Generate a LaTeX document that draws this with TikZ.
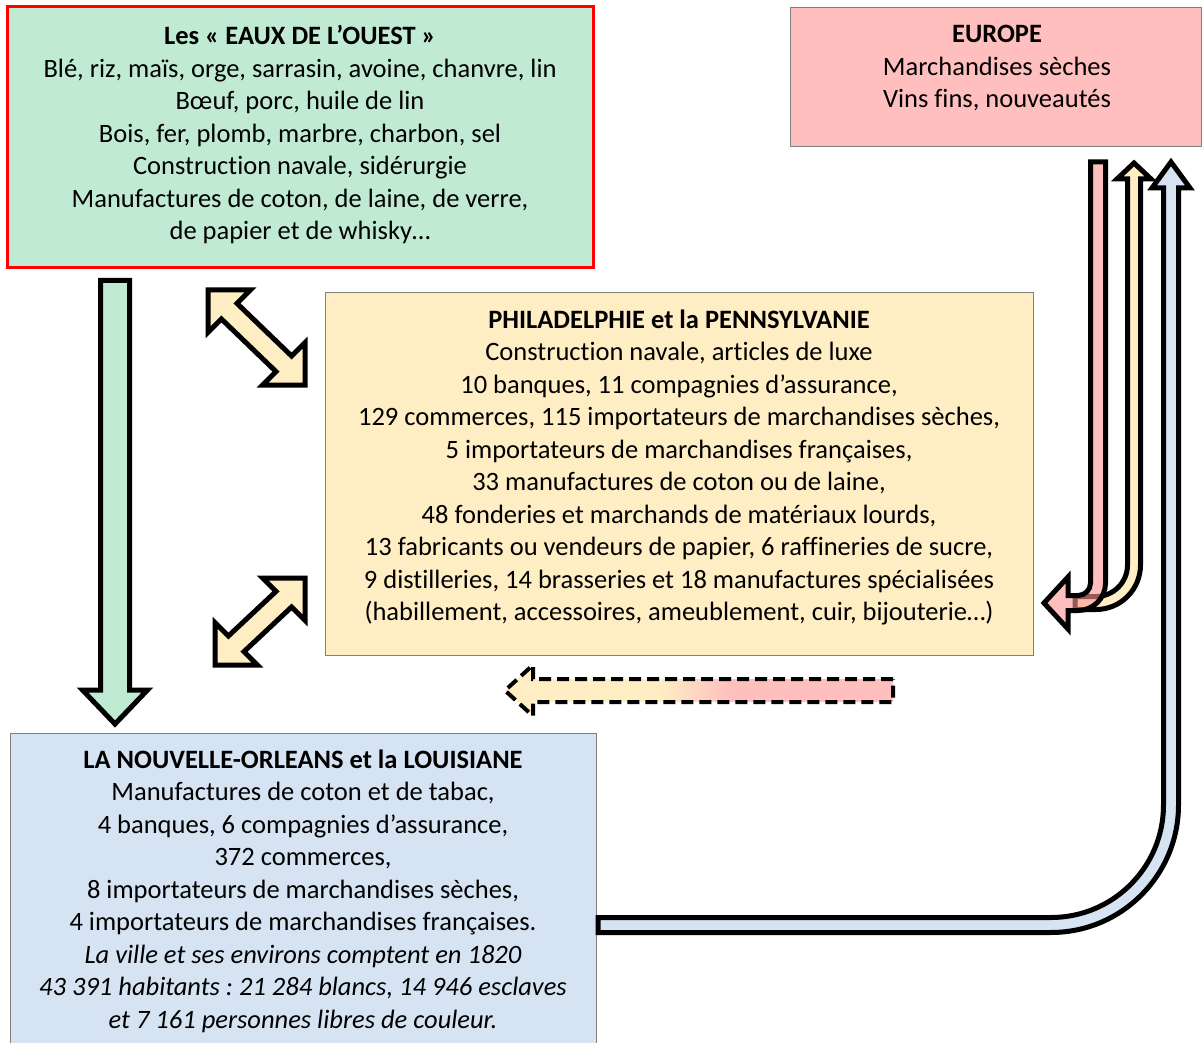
\documentclass[tikz,border=0pt]{standalone}
\usepackage{fontspec}
\setmainfont{Carlito}[Ligatures=NoCommon]
\definecolor{eauxGreen}{HTML}{C1EAD3}
\definecolor{eauxRed}{HTML}{FF0000}
\definecolor{europePink}{HTML}{FFBFBF}
\definecolor{europeRed}{HTML}{FF9494}
\definecolor{philaYellow}{HTML}{FFEDC3}
\definecolor{louisBlue}{HTML}{D5E3F3}
\definecolor{boxGrey}{HTML}{7F7F7F}
\pgfdeclarehorizontalshading{philaToEurope}{100bp}{color(0bp)=(philaYellow); color(45bp)=(philaYellow); color(54bp)=(europePink); color(100bp)=(europePink)}
\frenchspacing

\begin{document}
\begin{tikzpicture}[
    x=1pt, y=-1pt,
    box/.style={draw=boxGrey, line width=1pt, inner sep=0pt},
    txt/.style={align=center, inner sep=0pt, font=\fontsize{26.5}{32.5}\selectfont},
    blockarrow/.style={draw=black, line width=5pt, line join=miter},
  ]
    \path[fill=white] (0,0) rectangle (1203,1043);
    \useasboundingbox (0,0) rectangle (1203,1043);
    \clip (0,0) rectangle (1203,1043);

    % boxes
    \node[box, draw=eauxRed, line width=3pt, fill=eauxGreen, minimum width=586pt, minimum height=261pt] (ouest) at (300,137.5) {};
    \node[box, fill=europePink, minimum width=411pt, minimum height=139pt] (europe) at (995.5,77.5) {};
    \node[box, fill=philaYellow, minimum width=708pt, minimum height=362pt] (phila) at (679,474) {};
    \node[box, fill=louisBlue, minimum width=586pt, minimum height=316pt] (louis) at (303,891) {};

    % texts
    \node[txt] (ouesttext) at (300,134.5) {\textbf{Les « EAUX DE L’OUEST »}\\
      Blé, riz, maïs, orge, sarrasin, avoine, chanvre, lin\\
      Bœuf, porc, huile de lin\\
      Bois, fer, plomb, marbre, charbon, sel\\
      Construction navale, sidérurgie\\
      Manufactures de coton, de laine, de verre,\\
      de papier et de whisky…};
    \node[txt] (europetext) at (997,68.5) {\textbf{EUROPE}\\
      Marchandises sèches\\
      Vins fins, nouveautés};
    \node[txt] (philatext) at (679,467.5) {\textbf{PHILADELPHIE et la PENNSYLVANIE}\\
      Construction navale, articles de luxe\\
      10 banques, 11 compagnies d’assurance,\\
      129 commerces, 115 importateurs de marchandises sèches,\\
      5 importateurs de marchandises françaises,\\
      33 manufactures de coton ou de laine,\\
      48 fonderies et marchands de matériaux lourds,\\
      13 fabricants ou vendeurs de papier, 6 raffineries de sucre,\\
      9 distilleries, 14 brasseries et 18 manufactures spécialisées\\
      (habillement, accessoires, ameublement, cuir, bijouterie…)};
    \node[txt] (louistext) at (303,891) {\textbf{LA NOUVELLE-ORLEANS et la LOUISIANE}\\
      Manufactures de coton et de tabac,\\
      4 banques, 6 compagnies d’assurance,\\
      372 commerces,\\
      8 importateurs de marchandises sèches,\\
      4 importateurs de marchandises françaises.\\
      \textit{La ville et ses environs comptent en 1820}\\
      \textit{43~391 habitants : 21~284 blancs, 14~946 esclaves}\\
      \textit{et 7~161 personnes libres de couleur.}};

    % ouest -> louisiane
    \draw[blockarrow, fill=eauxGreen] (100.5,280.5) -- (129.5,280.5) -- (129.5,690) -- (147.5,690)
      -- (115,724) -- (82.5,690) -- (100.5,690) -- cycle;

    % ouest <-> phila
    \draw[blockarrow, fill=philaYellow] (208,290) -- (250.4,290) -- (237,303.4) -- (291.6,356)
      -- (305,342.6) -- (305,385) -- (262.6,385) -- (276,371.6) -- (221.4,319) -- (208,332.4) -- cycle;

    % phila <-> louisiane
    \draw[blockarrow, fill=philaYellow] (305,578) -- (305,620.4) -- (291.6,607) -- (244,651.6)
      -- (257.4,665) -- (215,665) -- (215,622.6) -- (228.4,636) -- (276,591.4) -- (262.6,578) -- cycle;

    % phila -> louisiane (dashed)
    \draw[blockarrow, line width=4pt, dash pattern=on 12pt off 6pt, shading=philaToEurope]
      (893,679) -- (533,679) -- (533,665) -- (505,690.5) -- (533,716) -- (533,702) -- (893,702) -- cycle;

    % louisiane -> europe
    \draw[blockarrow, fill=louisBlue] (598,917.5) -- (1051,917.5) arc[start angle=90, end angle=0, radius=112.5]
      -- (1163.5,188) -- (1152,188) -- (1171,162) -- (1190,188) -- (1178.5,188) -- (1178.5,805)
      arc[start angle=0, end angle=90, radius=127.5] -- (598,932.5) -- cycle;

    % phila -> europe
    \draw[blockarrow, fill=philaYellow] (1075,596.5) -- (1096,596.5) arc[start angle=90, end angle=0, radius=31.5]
      -- (1127.5,179) -- (1117,179) -- (1134,163) -- (1151,179) -- (1140.5,179) -- (1140.5,565)
      arc[start angle=0, end angle=90, radius=44.5] -- (1075,609.5) -- cycle;

    % europe -> phila
    \draw[blockarrow, fill=europeRed, fill opacity=0.6] (1090.5,162) -- (1105.5,162) -- (1105.5,583)
      arc[start angle=0, end angle=90, radius=27.5] -- (1068,610.5) -- (1068,629) -- (1044,603)
      -- (1068,577) -- (1068,595.5) -- (1078,595.5) arc[start angle=90, end angle=0, radius=12.5] -- cycle;
\end{tikzpicture}
\end{document}
